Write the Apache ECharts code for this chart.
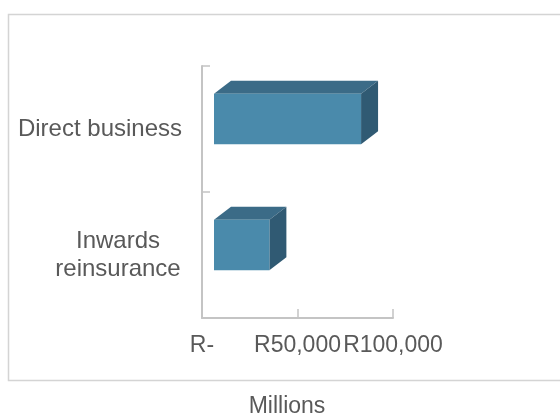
<!DOCTYPE html>
<html>
<head>
<meta charset="utf-8">
<script src="https://cdn.jsdelivr.net/npm/echarts@6/dist/echarts.min.js"></script>
<style>
  html, body { margin: 0; padding: 0; background: #fff; }
  #chart { width: 560px; height: 417px; }
</style>
</head>
<body>
<div id="chart"></div>
<script>
var categories = ['Direct business', 'Inwards reinsurance'];
var values = [77000, 29000];   // millions of rand
var xTicks = [0, 50000, 100000];

var textColor = '#595959';
var fontFamily = 'Arial, "Liberation Sans", sans-serif';

var chart = echarts.init(document.getElementById('chart'));

var seriesData = [];
for (var i = 0; i < values.length; i++) {
    seriesData.push([values[i], i]);
}

// draws one 3D-looking box: front face, top face and right side
function renderBox(params, api) {
    var cat = api.value(1);
    var start = api.coord([0, cat]);
    var end = api.coord([api.value(0), cat]);
    var band = api.size([0, 1])[1];
    var h = band * 0.4;
    var dx = 17, dy = -13;
    var x0 = start[0] + 12;
    var x1 = end[0] + 12;
    var top = start[1] - 10 - h / 2;
    var bottom = top + h;
    return {
        type: 'group',
        children: [
            {
                type: 'polygon',
                shape: { points: [[x0, top], [x0 + dx, top + dy], [x1 + dx, top + dy], [x1, top]] },
                style: { fill: '#3b6b87' }
            },
            {
                type: 'polygon',
                shape: { points: [[x1, top], [x1 + dx, top + dy], [x1 + dx, bottom + dy], [x1, bottom]] },
                style: { fill: '#305a73' }
            },
            {
                type: 'rect',
                shape: { x: x0, y: top, width: x1 - x0, height: h },
                style: { fill: '#4a8aab' }
            }
        ]
    };
}

var option = {
    animation: false,
    textStyle: { fontFamily: fontFamily },
    grid: {
        left: 202,
        right: 167,
        top: 66,
        bottom: 99
    },
    xAxis: {
        type: 'value',
        min: xTicks[0],
        max: xTicks[xTicks.length - 1],
        interval: xTicks[1] - xTicks[0],
        axisLine: { show: true, lineStyle: { color: '#c4c4c4', width: 2 } },
        axisTick: { show: true, inside: true, length: 9, lineStyle: { color: '#c4c4c4', width: 1.5 } },
        splitLine: { show: false },
        axisLabel: {
            margin: 16,
            fontSize: 23,
            color: textColor,
            fontFamily: fontFamily,
            formatter: function (v) {
                return v === 0 ? 'R-' : 'R' + v.toLocaleString('en-US');
            }
        }
    },
    yAxis: {
        type: 'category',
        inverse: true,
        data: categories,
        boundaryGap: true,
        axisLine: { show: true, lineStyle: { color: '#c4c4c4', width: 2 } },
        axisTick: { show: true, inside: true, length: 8, alignWithLabel: false, lineStyle: { color: '#c4c4c4', width: 1.5 } },
        splitLine: { show: false },
        axisLabel: {
            margin: 20,
            fontSize: 24,
            color: textColor,
            fontFamily: fontFamily,
            formatter: function (v) {
                if (v === 'Inwards reinsurance') {
                    return '{c|Inwards}\n{c|reinsurance}';
                }
                return v;
            },
            rich: {
                c: {
                    width: 128,
                    align: 'center',
                    fontSize: 24,
                    lineHeight: 28,
                    color: textColor,
                    fontFamily: fontFamily
                }
            }
        }
    },
    graphic: [
        {
            type: 'rect',
            shape: { x: 8.5, y: 14.5, width: 620, height: 366 },
            style: { fill: null, stroke: '#d4d4d4', lineWidth: 1.5 },
            silent: true,
            z: -10
        },
        {
            type: 'text',
            x: 287,
            y: 407,
            style: {
                text: 'Millions',
                fontSize: 23,
                fill: textColor,
                fontFamily: fontFamily,
                textAlign: 'center',
                textVerticalAlign: 'middle'
            }
        }
    ],
    series: [
        {
            type: 'custom',
            renderItem: renderBox,
            encode: { x: 0, y: 1 },
            data: seriesData
        }
    ]
};

chart.setOption(option);

window.onresize = function () {
    chart.resize();
};
</script>
</body>
</html>
